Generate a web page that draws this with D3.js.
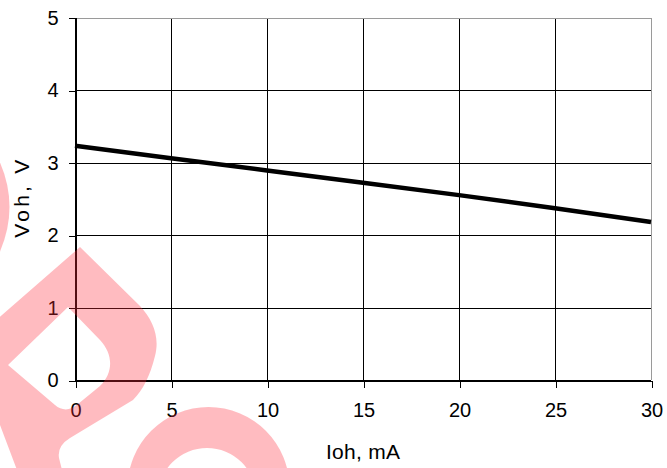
<!DOCTYPE html>
<html>
<head>
<meta charset="utf-8">
<script src="https://cdn.jsdelivr.net/npm/d3@7"></script>
<style>
  html, body { margin: 0; padding: 0; background: #fff; }
  svg { display: block; }
  text { font-family: "Liberation Sans", Arial, sans-serif; fill: #000; }
</style>
</head>
<body>
<svg id="chart" width="667" height="468"></svg>
<script>
// ---- data ----
const currents = [0, 5, 10, 15, 20, 25, 30];          // Ioh, mA
const voltages = [3.23, 3.06, 2.89, 2.72, 2.55, 2.37, 2.18]; // Voh, V
const xTicks = [0, 5, 10, 15, 20, 25, 30];
const yTicks = [0, 1, 2, 3, 4, 5];
const xTitle = "Ioh, mA";
const yTitle = "Voh, V";

// ---- layout ----
const W = 667, H = 468;
const plot = { left: 75, right: 651, top: 17.5, bottom: 380 };

const svg = d3.select("#chart");
const x = d3.scaleLinear().domain([0, 30]).range([plot.left, plot.right]);
const y = d3.scaleLinear().domain([0, 5]).range([plot.bottom, plot.top]);

// grid
const grid = svg.append("g").attr("shape-rendering", "crispEdges");
grid.selectAll("line.v").data(xTicks).join("line")
  .attr("x1", d => Math.round(x(d)) + 0.5).attr("x2", d => Math.round(x(d)) + 0.5)
  .attr("y1", plot.top).attr("y2", plot.bottom)
  .attr("stroke", d => d === 30 ? "#9a9a9a" : "#000").attr("stroke-width", 1);
grid.selectAll("line.h").data(yTicks).join("line")
  .attr("x1", plot.left).attr("x2", plot.right)
  .attr("y1", d => Math.round(y(d)) + 0.5).attr("y2", d => Math.round(y(d)) + 0.5)
  .attr("stroke", d => d === 5 ? "#9a9a9a" : "#000").attr("stroke-width", 1);

// axes
const xAxis = d3.axisBottom(x).tickValues(xTicks).tickSize(7).tickPadding(15).tickFormat(d3.format("d"));
const yAxis = d3.axisLeft(y).tickValues(yTicks).tickSize(7).tickPadding(10).tickFormat(d3.format("d"));

const gx = svg.append("g")
  .attr("transform", `translate(0.5,${Math.round(y(0)) + 0.5})`)
  .call(xAxis);
const gy = svg.append("g")
  .attr("transform", `translate(${Math.round(x(0)) + 0.5},0.5)`)
  .call(yAxis);
[gx, gy].forEach(g => {
  g.attr("shape-rendering", "crispEdges");
  g.select(".domain").attr("stroke", "#000");
  g.selectAll(".tick line").attr("stroke", "#000");
  g.selectAll(".tick text")
    .attr("font-family", "'Liberation Sans', Arial, sans-serif")
    .attr("font-size", 20).attr("fill", "#000");
});

// series line
const line = d3.line().x((d, i) => x(currents[i])).y(d => y(d));
svg.append("path")
  .datum(voltages)
  .attr("d", line)
  .attr("fill", "none")
  .attr("stroke", "#000")
  .attr("stroke-width", 4.5);

// axis titles
svg.append("text")
  .attr("x", (plot.left + plot.right) / 2)
  .attr("y", 459)
  .attr("text-anchor", "middle")
  .attr("font-size", 21)
  .attr("textLength", 74)
  .text(xTitle);
svg.append("text")
  .attr("transform", `translate(29,${(plot.top + plot.bottom) / 2}) rotate(-90)`)
  .attr("text-anchor", "middle")
  .attr("font-size", 21)
  .attr("textLength", 78)
  .text(yTitle);

// watermark (decorative, drawn on top)
const wm = svg.append("g").attr("fill", "#ff2a3c").attr("fill-opacity", 0.32);
// previous letter fragment at top-left
wm.append("path").attr("d", "M -5,152 Q 24,207 -5,262 Z");
// rotated "R"
wm.append("path")
  .attr("fill-rule", "evenodd")
  .attr("d",
    "M -30,343 L 80,247 L 140,306 C 153,320 160,337 155,356 C 150,376 143,390 133,400 " +
    "L 70,438 Q 57,446 59,458 L 62,470 L 17,470 L 0,425 L -30,425 Z " +
    "M 8,365 L 68,307 L 100,340 C 113,354 114,372 100,386 L 78,404 C 70,411 62,411 55,405 Z");
// rotated "O" (ring)
wm.append("path")
  .attr("fill-rule", "evenodd")
  .attr("d",
    "M 127.5,488 A 81,81 0 1 1 289.5,488 A 81,81 0 1 1 127.5,488 Z " +
    "M 158,497 A 49,49 0 1 1 256,497 A 49,49 0 1 1 158,497 Z");
</script>
</body>
</html>
